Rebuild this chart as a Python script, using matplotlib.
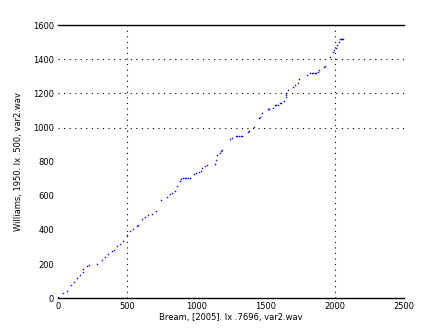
import numpy as np
import matplotlib
matplotlib.use("Agg")
import matplotlib.pyplot as plt

# onset times (x: Bream, y: Williams)
bream = [0, 34, 63, 92, 115, 139, 158, 178, 182, 211, 223, 279, 315, 339, 362,
         387, 403, 423, 447, 470, 499, 519, 538, 567, 579, 603, 627, 651, 682,
         706, 742, 788, 807, 826, 843, 860, 879, 891, 903, 915, 927, 939, 951,
         982, 999, 1018, 1035, 1043, 1059, 1076, 1136, 1138, 1148, 1167, 1179,
         1187, 1244, 1259, 1283, 1295, 1307, 1319, 1331, 1371, 1378, 1412, 1450,
         1460, 1472, 1515, 1521, 1527, 1551, 1566, 1576, 1587, 1600, 1612, 1630,
         1648, 1648, 1648, 1659, 1695, 1715, 1734, 1739, 1799, 1823, 1833, 1843,
         1854, 1864, 1875, 1888, 1919, 1931, 1965, 1989, 1996, 2008, 2015, 2027,
         2037, 2045, 2053, 2061]
williams = [5, 31, 41, 76, 94, 121, 135, 154, 170, 188, 195, 199, 223, 239, 260,
            275, 285, 305, 320, 336, 369, 393, 404, 422, 428, 461, 476, 486, 496,
            510, 578, 590, 608, 617, 629, 656, 687, 699, 707, 707, 707, 707, 707,
            727, 734, 737, 746, 760, 774, 780, 789, 809, 836, 852, 863,
            867, 932, 940, 949, 949, 949, 949, 949, 971, 979, 1004, 1053,
            1063, 1083, 1108, 1108, 1108, 1112, 1129, 1129, 1129, 1141, 1145, 1155,
            1180, 1190, 1200, 1219, 1235, 1248, 1262, 1282, 1307, 1317, 1317, 1317,
            1317, 1317, 1326, 1336, 1356, 1362, 1414, 1444, 1454, 1467, 1483, 1502,
            1516, 1516, 1516, 1516]

xticks = [0, 500, 1000, 1500, 2000, 2500]
yticks = [0, 200, 400, 600, 800, 1000, 1200, 1400, 1600]
xgrid = [500, 2000]
ygrid = [1000, 1200, 1400]

fig = plt.figure(figsize=(4.47, 3.35), dpi=100)
ax = fig.add_axes([0.13, 0.11, 0.774, 0.815])

ax.plot(bream, williams, linestyle='none', marker='s', markersize=1.0,
        color='blue', markeredgewidth=0)

for gx in xgrid:
    ax.axvline(gx, color='black', linewidth=0.8, linestyle=(0, (1, 4)))
for gy in ygrid:
    ax.axhline(gy, color='black', linewidth=0.8, linestyle=(0, (1, 4)))

ax.set_xlim(0, 2500)
ax.set_ylim(0, 1600)
ax.set_xticks(xticks)
ax.set_yticks(yticks)
ax.set_xticks(xgrid, minor=True)
ax.set_yticks(ygrid, minor=True)
ax.tick_params(which='major', length=0, labelsize=6, pad=3)
ax.tick_params(which='minor', length=4, width=0.8, direction='in',
               top=True, right=True, bottom=True, left=True)

ax.spines['left'].set_visible(False)
ax.spines['right'].set_visible(False)
ax.spines['top'].set_linewidth(1)
ax.spines['bottom'].set_linewidth(1)

ax.set_xlabel("Bream, [2005]. lx .7696, var2.wav", fontsize=6, labelpad=1)
ax.set_ylabel("Williams, 1950. lx .500, var2.wav", fontsize=6, labelpad=7)

fig.savefig("out.png", dpi=100)
